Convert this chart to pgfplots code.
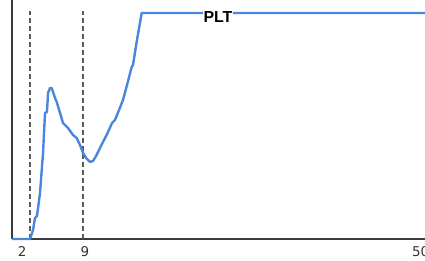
\documentclass[border=0pt]{standalone}
\usepackage{pgfplots}
\pgfplotsset{compat=1.18}
\usepackage{fontspec}
\setmainfont{DejaVu Sans}
\newfontfamily\lib{Liberation Sans}
\definecolor{pltblue}{RGB}{74,134,222}
\definecolor{axgray}{RGB}{60,60,60}
\begin{document}
\begin{tikzpicture}
\begin{axis}[
  scale only axis,
  width=413bp, height=239bp,
  xmin=-0.38, xmax=54.17,
  ymin=0, ymax=105.75,
  axis x line=bottom, axis y line=left,
  axis line style={axgray, line width=1.4bp, -},
  ytick=\empty,
  xtick={0.95,9.26,53.6},
  xticklabels={2,9,50},
  major tick length=0pt,
  tick label style={font=\fontsize{13.5}{14}\selectfont, text=black!80},
  xticklabel style={yshift=-4bp},
  clip=false,
]
\addplot[axgray!85, line width=1.2bp, dash pattern=on 5bp off 3bp] coordinates {(2,0) (2,100.8)};
\addplot[axgray!85, line width=1.2bp, dash pattern=on 5bp off 3bp] coordinates {(9,0) (9,100.8)};
\addplot[pltblue, line width=2.4bp, line join=round] coordinates {
(-0.38,0) (2.0,0) (2.40,4.0) (2.66,9.3) (2.92,10.2) (3.32,20.4) (3.72,38.1)
(3.98,55.8) (4.24,56.2) (4.38,64.6) (4.64,66.8) (4.87,66.8) (5.30,62.4)
(5.53,60.6) (5.96,55.8) (6.36,51.3) (7.02,49.1) (7.68,46.0) (8.17,44.7)
(8.60,41.6) (9.0,38.1) (9.40,35.8) (9.93,34.1) (10.32,34.5) (10.72,36.7)
(11.25,40.3) (11.64,42.9) (12.30,47.3) (12.83,51.3) (13.23,52.7) (13.76,57.1)
(14.28,61.5) (14.81,68.1) (15.43,76.1) (15.60,77.0) (16.13,88.1) (16.75,100)
(54.17,100)
};
\node[fill=white, inner sep=1bp, font=\lib\bfseries\fontsize{16}{16}\selectfont] at (axis cs:26.83,98.2) {PLT};
\coordinate (bl) at (rel axis cs:0,0);
\coordinate (tr) at (rel axis cs:1,1);
\end{axis}
\pgfresetboundingbox
\path (bl) ++(-12bp,-22bp) coordinate (p1);
\useasboundingbox (p1) rectangle (tr);
\end{tikzpicture}
\end{document}
